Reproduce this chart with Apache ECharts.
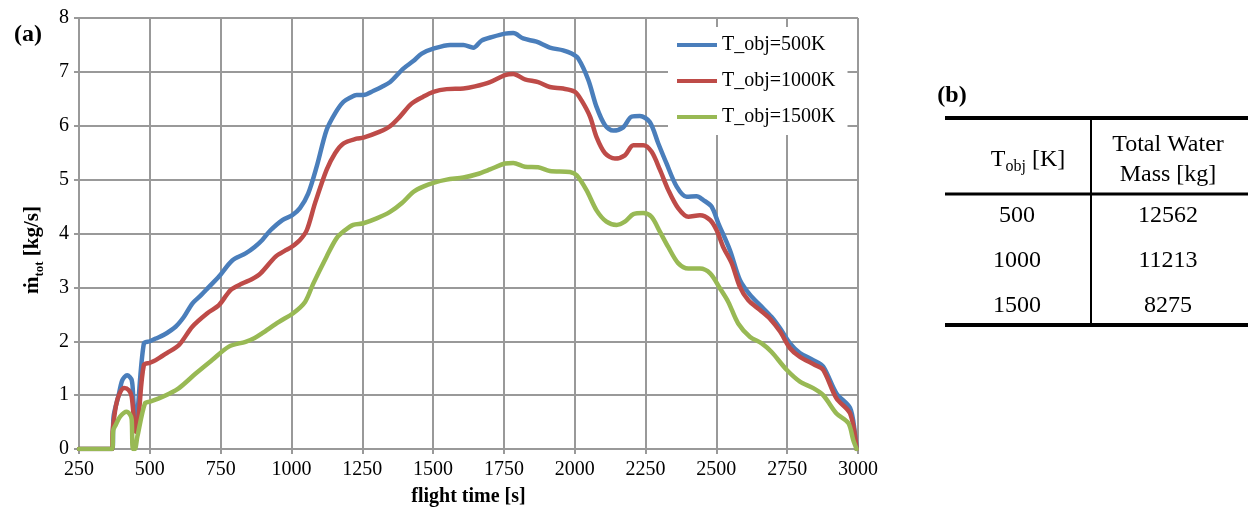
<!DOCTYPE html>
<html><head><meta charset="utf-8">
<script src="https://cdn.jsdelivr.net/npm/echarts@6/dist/echarts.min.js"></script>
<style>html,body{margin:0;padding:0;background:#fff}#c{width:1248px;height:513px}</style>
</head><body><div id="c"></div>
<script>
const seriesNames = ['T_obj=500K', 'T_obj=1000K', 'T_obj=1500K'];
const seriesColors = ['#4A7EBB', '#BE4B48', '#98B954'];

const time500 = [250,368,372,390,403,420,436,442,448,455,479,500,521,550,591,620,650,680,709,744,791,838,870,897,926,968,1003,1030,1059,1089,1124,1154,1183,1210,1230,1254,1290,1318,1348,1395,1430,1460,1501,1560,1607,1642,1671,1710,1754,1783,1818,1865,1912,1959,1989,2012,2048,2077,2107,2136,2171,2201,2230,2265,2295,2324,2360,2395,2430,2454,2483,2507,2548,2583,2619,2654,2695,2725,2760,2795,2842,2877,2924,2972,2989,2995];
const mdot500 = [0,0,0.6,1.0,1.28,1.37,1.28,0.9,0.48,0.6,1.96,2.0,2.05,2.12,2.27,2.45,2.7,2.85,3.01,3.2,3.5,3.63,3.75,3.88,4.06,4.25,4.34,4.47,4.74,5.24,5.92,6.23,6.44,6.53,6.57,6.57,6.65,6.72,6.81,7.06,7.2,7.34,7.43,7.5,7.5,7.45,7.58,7.65,7.71,7.72,7.62,7.56,7.45,7.4,7.34,7.25,6.85,6.35,6.01,5.91,5.97,6.17,6.18,6.07,5.67,5.3,4.87,4.68,4.69,4.62,4.5,4.19,3.69,3.14,2.86,2.67,2.45,2.24,1.96,1.78,1.65,1.53,1.03,0.76,0.3,0];

const time1000 = [250,367,369,385,409,426,436,450,460,479,500,521,560,603,650,703,744,785,826,860,891,944,980,1000,1030,1054,1083,1124,1154,1183,1230,1254,1312,1348,1383,1424,1465,1501,1548,1607,1648,1701,1754,1783,1824,1871,1912,1959,2001,2024,2054,2077,2107,2142,2177,2207,2242,2271,2301,2330,2365,2401,2442,2478,2501,2524,2554,2583,2613,2654,2689,2725,2760,2795,2848,2877,2924,2972,2995];
const mdot1000 = [0,0,0.35,0.91,1.13,1.09,0.97,0.32,0.6,1.56,1.6,1.65,1.78,1.93,2.27,2.52,2.67,2.95,3.07,3.15,3.26,3.57,3.69,3.75,3.88,4.06,4.56,5.18,5.49,5.67,5.76,5.78,5.89,5.99,6.17,6.41,6.54,6.63,6.68,6.69,6.73,6.81,6.94,6.96,6.86,6.81,6.72,6.69,6.63,6.47,6.17,5.79,5.49,5.39,5.45,5.64,5.64,5.52,5.18,4.81,4.47,4.31,4.34,4.25,4.06,3.75,3.45,3.01,2.76,2.58,2.42,2.18,1.87,1.71,1.56,1.47,0.94,0.66,0];

const time1500 = [250,367,371,380,395,418,430,436,440,447,456,483,500,532,570,603,662,720,779,838,870,897,956,1006,1048,1077,1124,1159,1189,1218,1254,1301,1348,1389,1430,1465,1501,1548,1607,1654,1701,1754,1783,1824,1871,1912,1983,2007,2042,2077,2112,2148,2177,2207,2242,2271,2301,2330,2365,2401,2442,2478,2513,2542,2577,2619,2660,2695,2748,2795,2842,2877,2924,2966,2983,2995];
const mdot1500 = [0,0,0.35,0.45,0.6,0.69,0.64,0.55,0,0,0.23,0.85,0.88,0.94,1.03,1.13,1.4,1.65,1.9,1.99,2.06,2.15,2.36,2.52,2.73,3.07,3.57,3.91,4.06,4.16,4.19,4.28,4.4,4.56,4.77,4.87,4.94,5.0,5.04,5.1,5.19,5.3,5.31,5.24,5.23,5.16,5.14,5.08,4.8,4.43,4.22,4.16,4.22,4.36,4.38,4.31,4.03,3.75,3.45,3.35,3.35,3.26,2.98,2.73,2.33,2.08,1.96,1.8,1.47,1.25,1.13,1.0,0.66,0.48,0.17,0];

const tableTemps = ['500', '1000', '1500'];
const tableMass = ['12562', '11213', '8275'];

const FONT = "'Liberation Serif', 'Times New Roman', serif";
const GRID = '#999999';

const pairs = (ts, vs) => ts.map((t, i) => [t, vs[i]]);
const allData = [pairs(time500, mdot500), pairs(time1000, mdot1000), pairs(time1500, mdot1500)];

const chart = echarts.init(document.getElementById('c'), null, {renderer: 'canvas'});

const rowY = [216, 261, 306];
const graphics = [
  {type: 'text', x: 28, y: 35, style: {text: '(a)', font: 'bold 24px ' + FONT, fill: '#000', align: 'center', verticalAlign: 'middle'}},
  {type: 'text', x: 33, y: 250, rotation: Math.PI / 2, style: {
    text: '{m|ṁ}{s|tot}{m| [kg/s]}', align: 'center', verticalAlign: 'middle', fill: '#000',
    rich: {
      m: {fontFamily: FONT, fontWeight: 'bold', fontSize: 21, lineHeight: 26, fill: '#000'},
      s: {fontFamily: FONT, fontWeight: 'bold', fontSize: 13, lineHeight: 13, verticalAlign: 'bottom', fill: '#000'}
    }}},
  {type: 'text', x: 952, y: 96, style: {text: '(b)', font: 'bold 24px ' + FONT, fill: '#000', align: 'center', verticalAlign: 'middle'}},
  {type: 'line', shape: {x1: 945, y1: 118, x2: 1248, y2: 118}, style: {stroke: '#000', lineWidth: 4}},
  {type: 'line', shape: {x1: 945, y1: 194, x2: 1248, y2: 194}, style: {stroke: '#000', lineWidth: 3}},
  {type: 'line', shape: {x1: 945, y1: 325, x2: 1248, y2: 325}, style: {stroke: '#000', lineWidth: 4}},
  {type: 'line', shape: {x1: 1091, y1: 120, x2: 1091, y2: 323}, style: {stroke: '#000', lineWidth: 2}},
  {type: 'text', x: 1028, y: 160, style: {
    text: '{m|T}{s|obj}{m| [K]}', align: 'center', verticalAlign: 'middle', fill: '#000',
    rich: {
      m: {fontFamily: FONT, fontSize: 24, lineHeight: 30, fill: '#000'},
      s: {fontFamily: FONT, fontSize: 16, lineHeight: 16, verticalAlign: 'bottom', fill: '#000'}
    }}},
  {type: 'text', x: 1168, y: 145, style: {text: 'Total Water', font: '24px ' + FONT, fill: '#000', align: 'center', verticalAlign: 'middle'}},
  {type: 'text', x: 1168, y: 175, style: {text: 'Mass [kg]', font: '24px ' + FONT, fill: '#000', align: 'center', verticalAlign: 'middle'}}
];
tableTemps.forEach((v, i) => {
  graphics.push({type: 'text', x: 1017, y: rowY[i], style: {text: v, font: '24px ' + FONT, fill: '#000', align: 'center', verticalAlign: 'middle'}});
  graphics.push({type: 'text', x: 1168, y: rowY[i], style: {text: tableMass[i], font: '24px ' + FONT, fill: '#000', align: 'center', verticalAlign: 'middle'}});
});

chart.setOption({
  backgroundColor: '#fff',
  animation: false,
  grid: {left: 79, right: 390, top: 18, bottom: 64, containLabel: false},
  xAxis: {
    type: 'value', min: 250, max: 3000, interval: 250,
    name: 'flight time [s]', nameLocation: 'middle', nameGap: 38,
    nameTextStyle: {fontFamily: FONT, fontWeight: 'bold', fontSize: 20, color: '#000'},
    axisLine: {show: true, onZero: false, lineStyle: {color: GRID, width: 2}},
    axisTick: {show: true, length: 5, lineStyle: {color: GRID, width: 2}},
    axisLabel: {fontFamily: FONT, fontSize: 20, color: '#000', margin: 11, formatter: v => String(v)},
    splitLine: {show: true, lineStyle: {color: GRID, width: 2}}
  },
  yAxis: {
    type: 'value', min: 0, max: 8, interval: 1,
    axisLine: {show: true, lineStyle: {color: GRID, width: 2}},
    axisTick: {show: true, length: 5, lineStyle: {color: GRID, width: 2}},
    axisLabel: {fontFamily: FONT, fontSize: 20, color: '#000', margin: 10, formatter: v => String(v)},
    splitLine: {show: true, lineStyle: {color: GRID, width: 2}}
  },
  legend: {
    orient: 'vertical', left: 668, top: 27, padding: [8, 12, 8, 9],
    backgroundColor: '#fff', itemWidth: 40, itemHeight: 4, itemGap: 16, icon: 'rect',
    textStyle: {fontFamily: FONT, fontSize: 20, color: '#000', lineHeight: 20},
    data: seriesNames
  },
  series: seriesNames.map((n, i) => ({
    name: n, type: 'line', data: allData[i], showSymbol: false, symbol: 'none',
    smooth: 0.3,
    lineStyle: {color: seriesColors[i], width: 4.5, cap: 'round', join: 'round'},
    itemStyle: {color: seriesColors[i]}
  })),
  graphic: graphics
});
</script></body></html>
